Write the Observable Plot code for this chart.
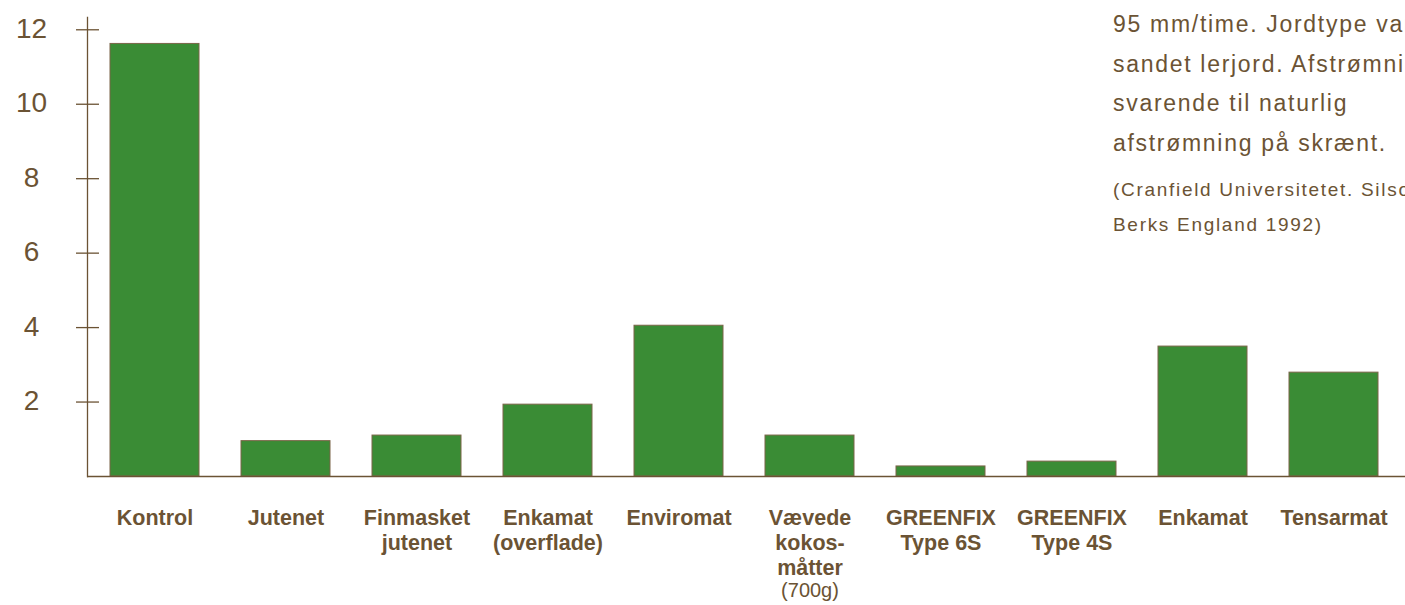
<!DOCTYPE html>
<html>
<head>
<meta charset="utf-8">
<script src="https://cdn.jsdelivr.net/npm/d3@7"></script>
<script src="https://cdn.jsdelivr.net/npm/@observablehq/plot@0.6"></script>
<style>
  html, body { margin: 0; padding: 0; background: #fff; overflow: hidden; width: 1405px; height: 605px; }
  #wrap { position: relative; width: 1405px; height: 605px; overflow: hidden; }
  #note { position: absolute; left: 1113px; top: 0; white-space: nowrap; color: #6b5334;
          font-family: "Liberation Sans", Arial, sans-serif; }
  #note .l { font-size: 23px; letter-spacing: 1.7px; line-height: 39.5px; }
  #note .s { font-size: 19px; letter-spacing: 1.7px; line-height: 35px; }
</style>
</head>
<body>
<div id="wrap">
  <div id="chart"></div>
  <div id="note"></div>
</div>
<script>
const categories = ["Kontrol", "Jutenet", "Finmasket\njutenet", "Enkamat\n(overflade)", "Enviromat",
  "Vævede\nkokos-\nmåtter", "GREENFIX\nType 6S", "GREENFIX\nType 4S", "Enkamat ", "Tensarmat"];
const values = [11.62, 0.95, 1.1, 1.93, 4.05, 1.1, 0.27, 0.4, 3.49, 2.79];
const extraNotes = [{cat: "Vævede\nkokos-\nmåtter", note: "(700g)"}];
const yTicks = [2, 4, 6, 8, 10, 12];
const noteLines = ["95 mm/time. Jordtype var", "sandet lerjord. Afstrømning", "svarende til naturlig", "afstrømning på skrænt."];
const sourceLines = ["(Cranfield Universitetet. Silsoe,", "Berks England 1992)"];

const brown = "#6b5334";
const green = "#3a8c35";
const data = categories.map((c, i) => ({cat: c, v: values[i]}));

const plot = Plot.plot({
  width: 1405,
  height: 605,
  marginLeft: 87,
  marginRight: 0,
  marginTop: 17,
  marginBottom: 129,
  style: {fontFamily: "'Liberation Sans', Arial, sans-serif", color: brown, background: "#fff"},
  x: {domain: categories, paddingInner: 0.32, paddingOuter: 0.19, align: 0.46, axis: null},
  y: {domain: [0, 12.33], axis: null},
  marks: [
    Plot.barY(data, {x: "cat", y: "v", fill: green, stroke: "#7a6548", strokeWidth: 1}),
    Plot.frame({anchor: "left", stroke: brown, strokeWidth: 1.3}),
    Plot.ruleY([0], {stroke: brown, strokeWidth: 1.5}),
    Plot.axisY(yTicks, {tickSize: 23, dx: 12, fill: "none", stroke: brown, strokeWidth: 1.3, label: null}),
    Plot.text(yTicks, {y: d => d, frameAnchor: "left", dx: -56, textAnchor: "middle", fontSize: 28, fill: brown, dy: -1}),
    Plot.text(data, {x: "cat", text: d => d.cat.trim(), frameAnchor: "bottom", lineAnchor: "top", dy: 31,
      fontSize: 21.5, fontWeight: "bold", lineHeight: 25 / 21.5, fill: brown}),
    Plot.text(extraNotes, {x: "cat", text: "note", frameAnchor: "bottom", lineAnchor: "top", dy: 106,
      fontSize: 20, fill: brown})
  ]
});
document.getElementById("chart").appendChild(plot);

const note = document.getElementById("note");
note.innerHTML = '<div style="height:5px"></div>' +
  noteLines.map(t => `<div class="l">${t}</div>`).join("") +
  '<div style="height:9px"></div>' +
  sourceLines.map(t => `<div class="s">${t}</div>`).join("");
</script>
</body>
</html>
